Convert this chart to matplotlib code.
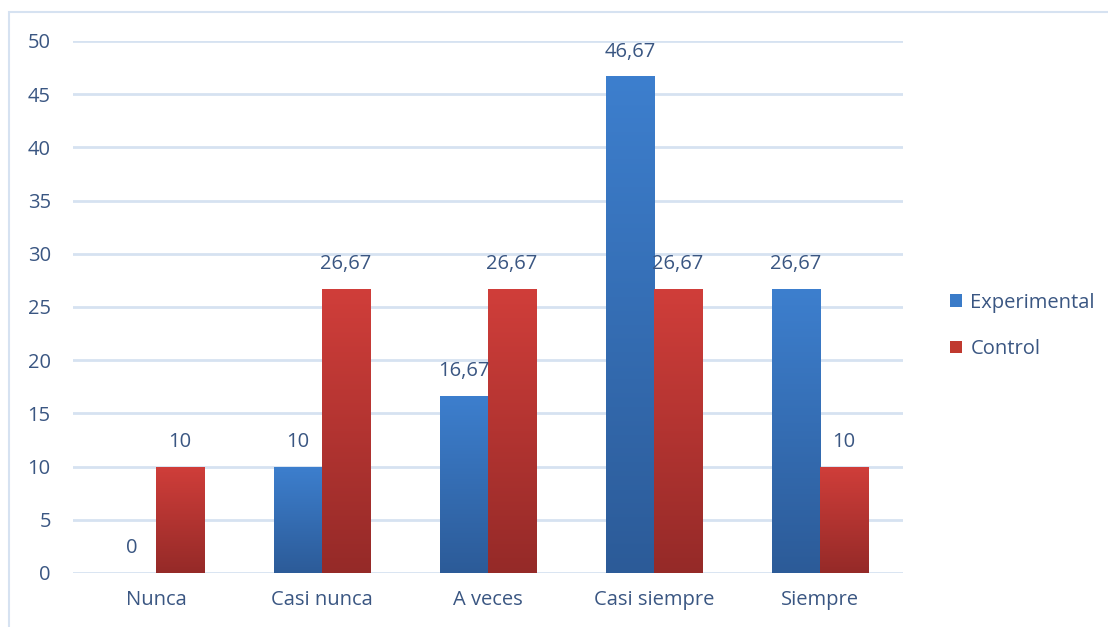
import matplotlib
matplotlib.use("Agg")
import matplotlib.pyplot as plt
import numpy as np
from matplotlib.colors import LinearSegmentedColormap
from matplotlib.patches import Rectangle, Patch

categories = ["Nunca", "Casi nunca", "A veces", "Casi siempre", "Siempre"]
experimental = [0, 10, 16.67, 46.67, 26.67]
control = [10, 26.67, 26.67, 26.67, 10]
series_names = ["Experimental", "Control"]
yticks = [0, 5, 10, 15, 20, 25, 30, 35, 40, 45, 50]

plt.rcParams['font.family'] = ['Open Sans', 'DejaVu Sans']
text_color = '#3A5682'
grid_color = '#D6E2F1'
fs = 14.5

fig = plt.figure(figsize=(11.08, 6.27), dpi=100)
ax = fig.add_axes([73/1108, 54/627, 830/1108, 532/627])

# chart border
fig.patches.append(Rectangle((9/1108, -0.01), 1.1, 1 - 12/627 + 0.01,
                             transform=fig.transFigure, fill=False,
                             edgecolor='#D6E2F1', linewidth=1.5))

x = np.arange(len(categories))
w = 0.29
blue_cmap = LinearSegmentedColormap.from_list('b', ['#2C5B98', '#3D7FCE'])
red_cmap = LinearSegmentedColormap.from_list('r', ['#952A28', '#D03E3A'])

b1 = ax.bar(x - w/2, experimental, w, color='#3A7BC8', zorder=3)
b2 = ax.bar(x + w/2, control, w, color='#C0392F', zorder=3)

grad = np.linspace(0, 1, 256).reshape(-1, 1)
for bars, cmap in ((b1, blue_cmap), (b2, red_cmap)):
    for p in bars:
        x0, y0 = p.get_x(), p.get_y()
        pw, ph = p.get_width(), p.get_height()
        if ph <= 0:
            continue
        im = ax.imshow(grad, cmap=cmap, origin='lower', aspect='auto',
                       extent=[x0, x0 + pw, y0, y0 + ph], zorder=3.5)
        im.set_clip_path(p)

def fmt(v):
    if float(v).is_integer():
        return str(int(v))
    return f"{v:.2f}".replace('.', ',')

for i in range(len(categories)):
    ax.text(x[i] - w/2, experimental[i] + 1.4, fmt(experimental[i]),
            ha='center', va='bottom', fontsize=fs, color=text_color, zorder=5)
    ax.text(x[i] + w/2, control[i] + 1.4, fmt(control[i]),
            ha='center', va='bottom', fontsize=fs, color=text_color, zorder=5)

ax.set_xlim(-0.5, len(categories) - 0.5)
ax.set_ylim(0, 50)
ax.set_yticks(yticks)
ax.set_xticks(x)
ax.set_xticklabels(categories)
ax.tick_params(axis='both', length=0, labelsize=fs, labelcolor=text_color)
ax.tick_params(axis='y', pad=16)
ax.tick_params(axis='x', pad=12)
ax.yaxis.grid(True, color=grid_color, linewidth=2, zorder=0)
ax.set_axisbelow(True)
for s in ax.spines.values():
    s.set_visible(False)

handles = [Patch(facecolor='#3A7BC8'), Patch(facecolor='#C0392F')]
fig.legend(handles, series_names, loc='center left',
           bbox_to_anchor=(932/1108, (627-326)/627), frameon=False,
           fontsize=fs, labelcolor=text_color, handlelength=0.6,
           handleheight=0.6, handletextpad=0.4, labelspacing=1.3)

fig.savefig('out.png', dpi=100)
